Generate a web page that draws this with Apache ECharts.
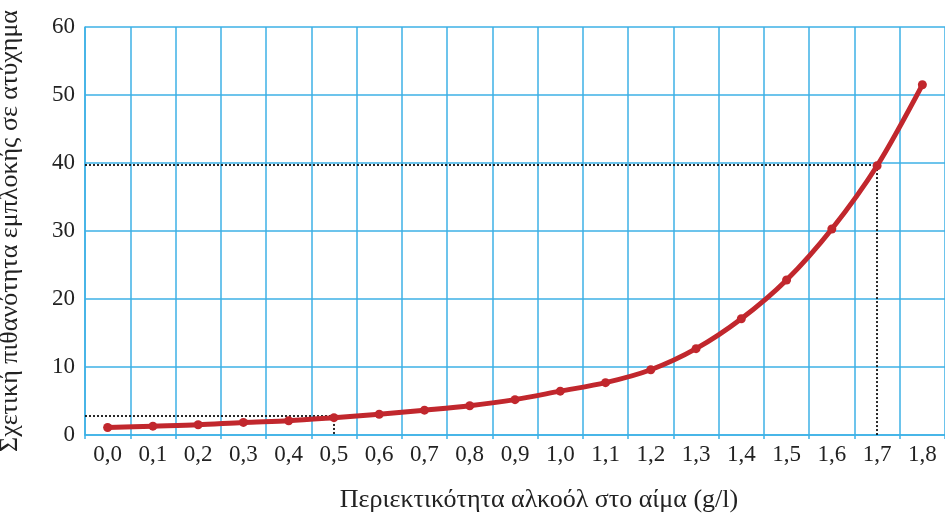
<!DOCTYPE html>
<html>
<head>
<meta charset="utf-8">
<script src="https://cdn.jsdelivr.net/npm/echarts@6/dist/echarts.min.js"></script>
<style>
  html, body { margin: 0; padding: 0; background: #fff; }
  #chart { width: 945px; height: 514px; }
</style>
</head>
<body>
<div id="chart"></div>
<script>
// alcohol in blood (g/l) vs relative risk of accident
var categories = ['0,0', '0,1', '0,2', '0,3', '0,4', '0,5', '0,6', '0,7', '0,8', '0,9',
                  '1,0', '1,1', '1,2', '1,3', '1,4', '1,5', '1,6', '1,7', '1,8'];
var risk = [1.1, 1.3, 1.5, 1.85, 2.1, 2.55, 3.05, 3.65, 4.3, 5.2,
            6.45, 7.7, 9.6, 12.7, 17.1, 22.8, 30.3, 39.6, 51.5];
// dotted guides: [x in g/l, y]
var guideLow = [0.5, 2.8];
var guideHigh = [1.7, 39.7];

var blue = '#3cb1e6';
var red = '#c1272d';
var serif = '"Liberation Serif", "DejaVu Serif", serif';

var chart = echarts.init(document.getElementById('chart'));

function guide(p) {
  return [
    [[-0.05, p[1]], [p[0], p[1]]],
    [[p[0], p[1]], [p[0], 0]]
  ];
}

var guideData = guide(guideLow).concat(guide(guideHigh));

option = {
  animation: false,
  grid: { left: 85, right: 0, top: 27, bottom: 79, outerBoundsMode: 'none', containLabel: false },
  xAxis: [{
    type: 'category',
    data: categories,
    boundaryGap: true,
    name: 'Περιεκτικότητα αλκοόλ στο αίμα (g/l)',
    nameLocation: 'middle',
    nameGap: 52,
    nameTextStyle: { fontFamily: serif, fontSize: 26, color: '#222', padding: [0, 0, 0, 48] },
    axisLine: { lineStyle: { color: blue, width: 1.5 } },
    axisTick: { show: true, length: 4, lineStyle: { color: blue, width: 1.5 } },
    axisLabel: { fontFamily: serif, fontSize: 23, color: '#222', margin: 8 },
    splitLine: { show: true, lineStyle: { color: blue, width: 1.5 } }
  }, {
    type: 'value',
    min: -0.05,
    max: 1.85,
    show: false,
    axisLine: { show: false, onZero: false },
    axisTick: { show: false },
    axisLabel: { show: false },
    splitLine: { show: false }
  }],
  yAxis: {
    type: 'value',
    min: 0,
    max: 60,
    interval: 10,
    name: 'Σχετική πιθανότητα εμπλοκής σε ατύχημα',
    nameLocation: 'middle',
    nameGap: 62,
    nameTextStyle: { fontFamily: serif, fontSize: 26, color: '#222' },
    axisLine: { show: true, onZero: false, lineStyle: { color: blue, width: 1.5 } },
    axisTick: { show: false },
    axisLabel: { fontFamily: serif, fontSize: 23, color: '#222', margin: 10 },
    splitLine: { lineStyle: { color: blue, width: 1.5 } }
  },
  series: [{
    type: 'line',
    xAxisIndex: 1,
    data: [],
    silent: true,
    z: 3,
    markLine: {
      symbol: 'none',
      silent: true,
      label: { show: false },
      lineStyle: { color: '#111', type: [2, 2], width: 1.8 },
      data: guideData.map(function (seg) {
        return [{ coord: seg[0] }, { coord: seg[1] }];
      })
    }
  }, {
    type: 'line',
    data: risk,
    smooth: 0.3,
    symbol: 'circle',
    symbolSize: 9,
    z: 5,
    itemStyle: { color: red },
    lineStyle: { color: red, width: 5 }
  }]
};

chart.setOption(option);
</script>
</body>
</html>
